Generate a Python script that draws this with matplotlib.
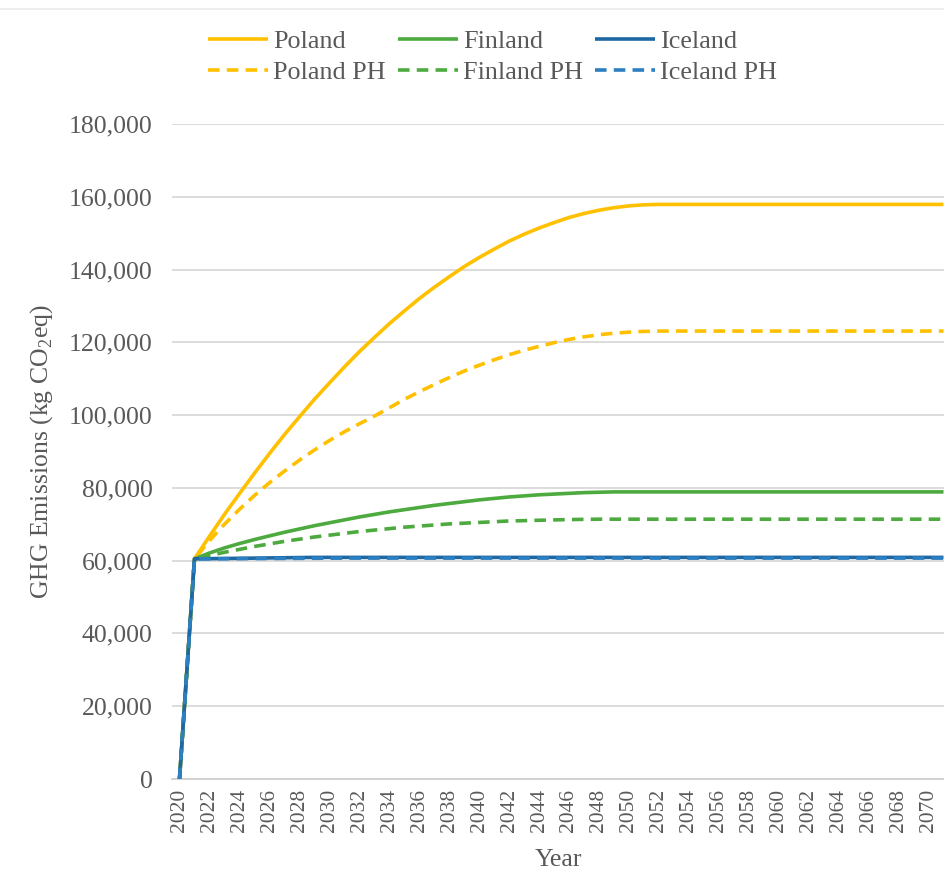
import numpy as np
import matplotlib
matplotlib.use('Agg')
import matplotlib.pyplot as plt
from matplotlib.ticker import FuncFormatter
from matplotlib.lines import Line2D

plt.rcParams['font.family'] = ['Liberation Serif', 'DejaVu Serif']
plt.rcParams['mathtext.fontset'] = 'custom'
plt.rcParams['mathtext.rm'] = 'Liberation Serif'

# years on the category axis
years = list(range(2020, 2072))

# values (kg CO2eq), 2020 .. 2051, flat afterwards
poland_rise = [0, 60500, 66700, 72700, 78400, 84000, 89400, 94600, 99500, 104300,
               108800, 113200, 117400, 121300, 125100, 128600, 132000, 135100, 138000,
               140800, 143300, 145600, 147800, 149700, 151400, 152900, 154300, 155400,
               156300, 157000, 157500, 157800]
poland_ph_rise = [0, 60500, 65500, 70000, 74100, 77900, 81400, 84600, 87600, 90400,
                  93000, 95400, 97600, 99700, 102000, 104300, 106400, 108400, 110300,
                  112100, 113700, 115200, 116600, 117800, 118900, 119900, 120800, 121500,
                  122100, 122500, 122800, 123000]
finland_rise = [0, 60500, 62100, 63500, 64700, 65800, 66800, 67800, 68700, 69600,
                70400, 71200, 72000, 72700, 73400, 74000, 74600, 75200, 75700, 76200,
                76700, 77100, 77500, 77800, 78100, 78300, 78500, 78700, 78800, 78900,
                78900, 78900]
finland_ph_rise = [0, 60500, 61400, 62300, 63100, 63900, 64600, 65300, 65900, 66500,
                   67000, 67500, 68000, 68400, 68800, 69200, 69500, 69800, 70100, 70300,
                   70500, 70700, 70900, 71000, 71100, 71200, 71300, 71350, 71400, 71400,
                   71400, 71400]
iceland_rise = [0, 60500, 60550, 60600, 60650, 60700, 60750, 60800, 60850, 60900,
                60900, 60900, 60900, 60900, 60900, 60900, 60900, 60900, 60900, 60900,
                60900, 60900, 60900, 60900, 60900, 60900, 60900, 60900, 60900, 60900,
                60900, 60900]
iceland_ph_rise = [0, 60500, 60520, 60540, 60560, 60580, 60600, 60620, 60640, 60660,
                   60680, 60700, 60700, 60700, 60700, 60700, 60700, 60700, 60700, 60700,
                   60700, 60700, 60700, 60700, 60700, 60700, 60700, 60700, 60700, 60700,
                   60700, 60700]

plateau = {'Poland': 157900, 'Poland PH': 123100, 'Finland': 78900,
           'Finland PH': 71400, 'Iceland': 60900, 'Iceland PH': 60700}


def full_series(rise, name):
    # pad the flat tail after the plateau is reached
    return rise + [plateau[name]] * (len(years) - len(rise))


# ordered so the legend (filled column by column) reads solid row / PH row
series = [
    ('Poland', poland_rise, '#FFC000', '-'),
    ('Poland PH', poland_ph_rise, '#FFC000', '--'),
    ('Finland', finland_rise, '#4DAA3F', '-'),
    ('Finland PH', finland_ph_rise, '#4DAA3F', '--'),
    ('Iceland', iceland_rise, '#1D67A3', '-'),
    ('Iceland PH', iceland_ph_rise, '#2C7FC0', '--'),
]

W, H = 945, 876
fig = plt.figure(figsize=(W / 100, H / 100), dpi=100)
ax = fig.add_axes([172 / W, 1 - 779 / H, (W - 172) / W, (779 - 124) / H])

grey = '#595959'
for name, rise, colour, ls in series:
    vals = full_series(rise, name)
    z = 4 if name == 'Iceland PH' else 3
    line, = ax.plot(years, vals, color=colour, linestyle=ls, linewidth=2.6,
                    solid_capstyle='butt', zorder=z, label=name)
    if ls == '--':
        line.set_dashes((3.2, 2.0))

ax.set_xlim(2019.5, 2071.1)
ax.set_ylim(0, 180000)
ax.set_yticks(np.arange(0, 180001, 20000))
ax.set_xticks(np.arange(2020, 2071, 2))
ax.yaxis.set_major_formatter(FuncFormatter(lambda v, p: '{:,.0f}'.format(v)))
ax.tick_params(axis='y', length=0, labelsize=18.5, labelcolor=grey, pad=14)
ax.tick_params(axis='x', length=0, labelsize=15.5, labelcolor=grey, rotation=90, pad=7)

ax.grid(axis='y', color='#D9D9D9', linewidth=1.3, zorder=0)
for s in ['top', 'right', 'left']:
    ax.spines[s].set_visible(False)
ax.spines['bottom'].set_color('#D0D0D0')
ax.spines['bottom'].set_linewidth(1.3)

ax.set_ylabel('GHG Emissions (kg CO$_2$eq)', fontsize=18.5, color=grey, labelpad=10)
ax.set_xlabel('Year', fontsize=18.5, color=grey, labelpad=12)

# legend: two rows, solid on top, PH below
handles, labels = ax.get_legend_handles_labels()
leg = fig.legend(handles, labels, ncol=3, loc='upper left',
                 bbox_to_anchor=(208 / W, 1 - 30 / H), frameon=False,
                 fontsize=18.8, handlelength=2.3, handletextpad=0.2,
                 columnspacing=0.45, labelspacing=0.3, borderpad=0, borderaxespad=0)
for t in leg.get_texts():
    t.set_color(grey)

# thin frame line at top of the chart area
fig.add_artist(Line2D([0, 1], [1 - 9 / H, 1 - 9 / H], color='#EBEBEB', linewidth=1.2))

fig.savefig('out.png', dpi=100)
